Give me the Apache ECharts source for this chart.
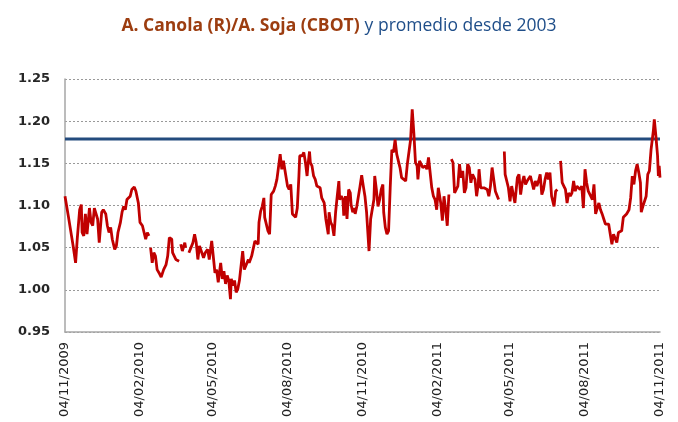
<!DOCTYPE html>
<html><head><meta charset="utf-8">
<script src="https://cdn.jsdelivr.net/npm/echarts@6/dist/echarts.min.js"></script>
<style>html,body{margin:0;padding:0;background:#fff}#c{width:678px;height:422px}</style>
</head><body><div id="c"></div>
<script>
// Day offsets counted from 04/11/2009 (null value = no quote)
const tickLabels = ['04/11/2009','04/02/2010','04/05/2010','04/08/2010','04/11/2010','04/02/2011','04/05/2011','04/08/2011','04/11/2011'];
const days = [
0,4,8,10,13,15,18,20,21,23,
25,27,30,32,34,36,38,40,42,45,
47,50,52,54,56,58,61,63,65,68,
70,72,74,76,78,80,82,85,87,90,
92,95,97,99,101,103,104,105,107,109,
111,113,116,118,121,124,126,128,131,132,
134,136,138,140,141,142,144,147,148,150,
152,154,157,159,161,163,165,167,170,172,
175,177,180,182,184,186,188,191,193,195,
197,199,201,203,204,206,208,210,212,214,
216,218,220,222,225,226,229,230,233,234,
237,238,240,242,244,245,247,249,251,253,
255,256,258,260,262,264,266,268,270,271,
273,275,277,279,281,283,285,287,288,291,
293,295,297,298,300,301,303,305,307,309,
311,313,315,316,318,320,323,324,326,328,
330,332,334,336,337,339,341,342,344,346,
348,350,351,353,355,356,358,360,362,364,
366,368,370,373,375,377,379,380,382,384,
386,388,390,391,393,395,397,399,401,403,
405,407,409,411,413,415,418,420,422,424,
426,428,430,432,433,435,437,439,440,442,
444,446,448,450,452,454,456,458,461,463,
465,467,469,471,472,474,476,478,480,482,
484,486,488,490,492,494,496,498,500,502,
503,505,507,508,510,512,514,516,518,520,
522,524,526,528,530,532,535,539,540,542,
544,546,548,550,552,555,557,559,561,563,
565,567,569,571,573,575,577,579,581,583,
585,587,589,591,593,595,597,599,600,602,
604,606,608,610,612,614,616,618,620,622,
624,626,628,630,632,634,636,638,640,642,
645,647,649,651,653,655,657,659,661,663,
665,667,669,671,673,675,677,679,681,683,
685,687,689,692,694,696,698,700,702,704,
706,707,709,711,713,715,717,719,720,722,
723,725,727,728,729,730
];
const ratio = [
1.111,1.088,1.064,1.052,1.032,1.060,1.095,1.101,1.068,1.064,
1.090,1.066,1.097,1.080,1.076,1.097,1.095,1.084,1.056,1.092,
1.095,1.090,1.076,1.068,1.074,1.060,1.048,1.052,1.068,1.080,
1.092,1.099,1.095,1.107,1.107,1.111,1.119,1.122,1.117,1.103,
1.080,1.076,1.068,1.060,1.068,1.064,null,1.050,1.032,1.044,
1.040,1.024,1.019,1.015,1.024,1.030,1.040,1.062,1.060,1.044,
1.042,1.036,1.036,1.034,null,1.054,1.046,1.056,1.050,null,
1.044,1.044,1.056,1.066,1.056,1.036,1.052,1.054,1.038,1.044,
1.048,1.036,1.058,1.060,1.020,1.024,1.009,1.032,1.013,1.022,
1.007,1.017,1.011,0.989,1.013,1.005,1.011,0.997,1.001,1.011,
1.013,1.046,1.024,1.026,1.036,1.032,1.040,1.042,1.058,1.060,
1.054,1.080,1.093,1.099,1.109,1.086,1.084,1.070,1.066,1.113,
1.111,1.117,1.123,1.131,1.131,1.161,1.143,1.153,1.141,1.141,
1.123,1.119,1.125,1.090,1.092,1.086,1.097,1.135,1.159,1.159,
1.163,1.151,1.135,1.147,1.164,1.151,1.147,1.135,1.131,1.123,
1.125,1.121,1.109,1.111,1.103,1.084,1.066,1.092,1.080,1.076,
1.064,1.092,1.111,1.129,1.107,1.111,1.107,1.088,1.111,1.084,
1.119,1.115,1.101,1.092,1.097,1.090,1.099,1.101,1.123,1.136,
1.123,1.111,1.092,1.046,1.084,1.082,1.107,1.135,1.119,1.099,
1.107,1.119,1.125,1.092,1.074,1.066,1.070,1.121,1.166,1.163,
1.178,1.161,1.163,1.145,1.133,1.133,1.129,1.149,1.151,1.178,
1.214,1.186,1.151,1.147,1.131,1.153,1.153,1.145,1.145,1.147,
1.143,1.157,1.159,1.121,1.111,1.107,1.095,1.121,1.103,1.082,
1.111,1.095,1.076,1.113,null,1.155,1.151,1.115,1.115,1.123,
1.149,1.133,1.141,1.115,1.121,1.149,1.145,1.127,1.137,1.137,
1.131,1.111,1.125,1.143,1.121,1.123,1.121,1.123,1.119,1.111,
1.123,1.145,1.131,1.117,1.117,1.107,null,1.164,1.137,1.129,
1.121,1.105,1.123,1.125,1.103,1.133,1.137,1.113,1.127,1.135,
1.125,1.129,1.127,1.135,1.137,1.119,1.129,1.123,1.129,1.137,
1.113,1.119,1.131,1.139,1.131,1.139,1.111,1.109,1.099,1.117,
1.119,null,1.153,1.127,1.123,1.119,1.103,1.115,1.111,1.115,
1.129,1.117,1.123,1.121,1.119,1.123,1.097,1.143,1.127,1.117,
1.111,1.107,1.125,1.090,1.088,1.103,1.095,1.090,1.084,1.078,
1.076,1.078,1.066,1.054,1.066,1.064,1.056,1.068,1.066,1.070,
1.086,1.088,1.090,1.095,1.109,1.135,1.125,1.141,1.149,1.139,
1.127,1.092,1.099,1.101,1.111,1.137,1.141,1.166,1.164,1.190,
1.202,1.182,1.159,1.135,1.147,1.133
];
const promedio = 1.179;

function parseLabel(s){ const p = s.split('/').map(Number); return Date.UTC(p[2], p[1]-1, p[0]); }
const t0 = parseLabel(tickLabels[0]);
const tickDays = tickLabels.map(s => Math.round((parseLabel(s) - t0) / 86400000));

const lineData = days.map((d,i)=>[d, ratio[i]===null ? '-' : ratio[i]]);
const avgData = [[tickDays[0], promedio],[tickDays[tickDays.length-1], promedio]];

const chart = echarts.init(document.getElementById('c'), null, {renderer:'canvas'});
chart.setOption({
  animation:false,
  backgroundColor:'#ffffff',
  title:{
    text:'{a|A. Canola (R)/A. Soja (CBOT)} {b|y promedio desde 2003}',
    left:'center', top:12,
    textStyle:{ rich:{
      a:{fontFamily:'Open Sans', fontWeight:'bold', fontSize:17.5, color:'#9C3D10'},
      b:{fontFamily:'Open Sans', fontWeight:'normal', fontSize:17.5, color:'#1F4E89'}
    }}
  },
  grid:{left:65, right:18, top:79, bottom:90},
  xAxis:{
    type:'value',
    min:tickDays[0], max:tickDays[tickDays.length-1],
    axisLine:{show:true, onZero:false, lineStyle:{color:'#a6a6a6', width:1.5}},
    axisTick:{show:false},
    splitLine:{show:false},
    axisLabel:{
      customValues:tickDays,
      rotate:90, margin:10,
      fontFamily:'DejaVu Sans', fontSize:13, color:'#222',
      formatter:function(v){ const i = tickDays.indexOf(Math.round(v)); return i>=0 ? tickLabels[i] : ''; }
    }
  },
  yAxis:{
    type:'value', min:0.95, max:1.25, interval:0.05,
    axisLine:{show:true, lineStyle:{color:'#a6a6a6', width:1.5}},
    axisTick:{show:false},
    splitLine:{show:true, lineStyle:{type:[2,2], color:'#999', width:1}},
    axisLabel:{
      margin:15, fontFamily:'DejaVu Sans', fontSize:13, fontWeight:'bold', color:'#262626',
      formatter:function(v){ return v.toFixed(2); }
    }
  },
  series:[
    {type:'line', name:'Promedio desde 2003', data:avgData, symbol:'none', z:2,
     lineStyle:{color:'#244C7E', width:3}},
    {type:'line', name:'A. Canola (R)/A. Soja (CBOT)', data:lineData, symbol:'none', showSymbol:false,
     connectNulls:false, z:3, lineStyle:{color:'#C00000', width:2.8}}
  ]
});
</script>
</body></html>
